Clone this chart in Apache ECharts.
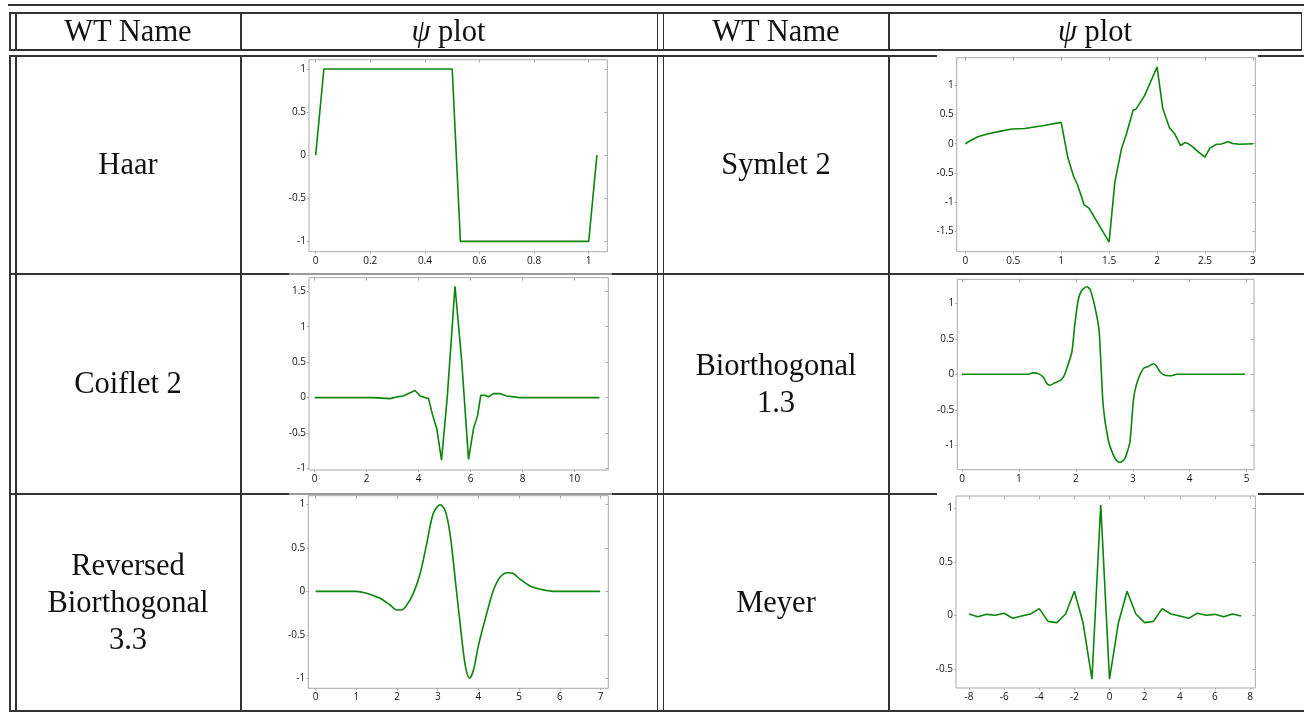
<!DOCTYPE html>
<html>
<head>
<meta charset="utf-8">
<script src="https://cdn.jsdelivr.net/npm/echarts@6/dist/echarts.min.js"></script>
<style>
  html,body{margin:0;padding:0;background:#fff;overflow:hidden;}
  #wrap{position:relative;width:1304px;height:714px;}
  .ln{position:absolute;background:#333;z-index:1;}
  .cover{position:absolute;background:#fff;z-index:2;}
  .ln2{position:absolute;z-index:2;}
  #chart{position:absolute;left:0;top:0;width:1304px;height:714px;z-index:3;}
  .txt{position:absolute;z-index:4;display:flex;align-items:center;justify-content:center;text-align:center;
       font-family:"Liberation Serif","Times New Roman",serif;font-size:30.5px;line-height:37px;color:#111;}
</style>
</head>
<body>
<div id="wrap"><div id="chart"></div></div>
<script>
// ---------- data ----------
const headerLabels = ['WT Name', 'ψ plot'];
const wtNames = [['Haar'], ['Symlet 2'], ['Coiflet 2'], ['Biorthogonal', '1.3'], ['Reversed', 'Biorthogonal', '3.3'], ['Meyer']];

const haarX = [0, 0.03, 0.5, 0.53, 1.0, 1.03];
const haarY = [0, 1, 1, -1, -1, 0];
const haarXTicks = [0, 0.2, 0.4, 0.6, 0.8, 1];
const haarYTicks = [-1, -0.5, 0, 0.5, 1];

const sym2X = [0, 0.06, 0.13, 0.23, 0.37, 0.49, 0.62, 0.82, 1.0, 1.07, 1.13, 1.17, 1.24, 1.29, 1.5, 1.56, 1.63, 1.68, 1.75, 1.78, 1.87, 2.0, 2.06, 2.13, 2.18, 2.245, 2.29, 2.32, 2.37, 2.43, 2.5, 2.55, 2.62, 2.67, 2.74, 2.79, 2.86, 3.0];
const sym2Y = [0, 0.06, 0.12, 0.165, 0.215, 0.25, 0.26, 0.31, 0.364, -0.24, -0.56, -0.70, -1.045, -1.10, -1.68, -0.65, -0.08, 0.16, 0.57, 0.59, 0.82, 1.31, 0.60, 0.27, 0.18, -0.03, 0.02, 0.005, -0.05, -0.14, -0.23, -0.08, -0.01, -0.005, 0.035, 0.005, -0.01, 0];
const sym2XTicks = [0, 0.5, 1, 1.5, 2, 2.5, 3];
const sym2YTicks = [-1.5, -1, -0.5, 0, 0.5, 1];

const coif2X = [0, 2.26, 2.9, 3.16, 3.41, 3.86, 4.06, 4.18, 4.38, 4.54, 4.7, 4.88, 5.1, 5.4, 5.66, 5.92, 6.11, 6.27, 6.39, 6.56, 6.69, 6.88, 7.14, 7.39, 7.9, 10.96];
const coif2Y = [0, 0, -0.014, 0.01, 0.023, 0.10, 0.023, 0.01, -0.014, -0.25, -0.44, -0.88, 0.0, 1.57, 0.50, -0.87, -0.44, -0.25, 0.033, 0.033, 0.01, 0.056, 0.056, 0.023, 0, 0];
const coif2XTicks = [0, 2, 4, 6, 8, 10];
const coif2YTicks = [-1, -0.5, 0, 0.5, 1, 1.5];

const bior13X = [0, 1.02, 1.165, 1.25, 1.34, 1.43, 1.49, 1.545, 1.63, 1.72, 1.78, 1.84, 1.93, 1.98, 2.04, 2.1, 2.19, 2.25, 2.34, 2.41, 2.48, 2.57, 2.66, 2.73, 2.78, 2.86, 2.95, 3.01, 3.07, 3.185, 3.27, 3.36, 3.42, 3.48, 3.57, 3.68, 3.77, 4.97];
const bior13Y = [0, 0, 0, 0.02, 0.01, -0.04, -0.13, -0.155, -0.12, -0.09, -0.04, 0.08, 0.315, 0.69, 1.045, 1.18, 1.235, 1.20, 0.93, 0.60, -0.44, -0.93, -1.14, -1.23, -1.24, -1.19, -0.955, -0.37, -0.13, 0.08, 0.11, 0.15, 0.113, 0.033, -0.014, -0.02, 0, 0];
const bior13XTicks = [0, 1, 2, 3, 4, 5];
const bior13YTicks = [-1, -0.5, 0, 0.5, 1];

const rbio33X = [0, 0.99, 1.25, 1.58, 1.83, 1.99, 2.11, 2.24, 2.40, 2.57, 2.73, 2.89, 3.06, 3.18, 3.30, 3.45, 3.58, 3.68, 3.78, 3.88, 4.0, 4.2, 4.37, 4.54, 4.72, 4.84, 5.03, 5.27, 5.52, 5.84, 6.99];
const rbio33Y = [0, 0, -0.023, -0.08, -0.157, -0.214, -0.214, -0.157, -0.023, 0.207, 0.55, 0.895, 0.994, 0.93, 0.665, 0.05, -0.5, -0.86, -0.998, -0.9, -0.62, -0.26, 0.015, 0.168, 0.214, 0.207, 0.138, 0.061, 0.023, 0, 0];
const rbio33XTicks = [0, 1, 2, 3, 4, 5, 6, 7];
const rbio33YTicks = [-1, -0.5, 0, 0.5, 1];

const meyerX = [-8, -7.5, -7, -6.5, -6, -5.5, -5, -4.5, -4, -3.5, -3, -2.5, -2, -1.5, -1, -0.5, 0, 0.5, 1, 1.5, 2, 2.5, 3, 3.5, 4, 4.5, 5, 5.5, 6, 6.5, 7, 7.5];
const meyerY = [0.015, -0.01, 0.012, 0.003, 0.022, -0.025, -0.003, 0.015, 0.065, -0.053, -0.065, 0.015, 0.226, -0.071, -0.59, 1.028, -0.59, -0.071, 0.226, 0.015, -0.065, -0.053, 0.065, 0.015, -0.003, -0.025, 0.022, 0.003, 0.012, -0.01, 0.015, -0.003];
const meyerXTicks = [-8, -6, -4, -2, 0, 2, 4, 6, 8];
const meyerYTicks = [-0.5, 0, 0.5, 1];

// ---------- table ----------
const wrap = document.getElementById('wrap');
function box(cls, l, t, w, h, bg) {
  const d = document.createElement('div');
  d.className = cls;
  d.style.left = l + 'px'; d.style.top = t + 'px';
  d.style.width = w + 'px'; d.style.height = h + 'px';
  if (bg) d.style.background = bg;
  wrap.appendChild(d);
  return d;
}
const LW = 1.5;
function hline(x1, x2, y, c, cls) { box(cls || 'ln', x1, y, x2 - x1, LW, c); }
function vline(x, y1, y2, c) { box('ln', x, y1, LW, y2 - y1, c); }

hline(8, 1304, 4);
// header
hline(9, 1302, 12);
hline(9, 1302, 49);
[9, 15, 240, 656.5, 662.5, 888, 1300.5].forEach(x => vline(x, 12, 50));
// body
[55, 273, 493, 710].forEach(y => hline(9, 1304, y));
[9, 15, 240, 656.5, 662.5, 888].forEach(x => vline(x, 55, 711.5));
// chart images partly covering the borders
box('cover', 937, 54, 321, 3);
box('cover', 937, 492, 321, 3);
box('cover', 289, 272, 323, 3); hline(289, 612, 273, '#9a9a9a', 'ln2');
box('cover', 289, 492, 323, 3); hline(289, 612, 493, '#9a9a9a', 'ln2');

function text(lines, l, t, w, h) {
  const d = box('txt', l, t, w, h);
  d.innerHTML = '<span>' + lines.join('<br>') + '</span>';
  return d;
}
const psiHeader = '<i>ψ</i>&nbsp;plot';
text([headerLabels[0]], 16, 13, 224, 36);
text([psiHeader], 241, 13, 415, 36);
text([headerLabels[0]], 664, 13, 224, 36);
text([psiHeader], 889, 13, 412, 36);
const rowsY = [[56, 217], [274, 219], [494, 216]];
text(wtNames[0], 16, rowsY[0][0], 224, rowsY[0][1]);
text(wtNames[1], 664, rowsY[0][0], 224, rowsY[0][1]);
text(wtNames[2], 16, rowsY[1][0], 224, rowsY[1][1]);
text(wtNames[3], 664, rowsY[1][0], 224, rowsY[1][1]);
text(wtNames[4], 16, rowsY[2][0], 224, rowsY[2][1]);
text(wtNames[5], 664, rowsY[2][0], 224, rowsY[2][1]);

// ---------- charts ----------
const panels = [
  {x: haarX,  y: haarY,  xt: haarXTicks,  yt: haarYTicks,  xr: [-0.0245, 1.068], yr: [-1.12, 1.108], rect: [309, 59.7, 298.3, 192], smooth: false},
  {x: sym2X,  y: sym2Y,  xt: sym2XTicks,  yt: sym2YTicks,  xr: [-0.09, 3.025],  yr: [-1.843, 1.468], rect: [956.7, 57.7, 298.6, 194], smooth: false},
  {x: coif2X, y: coif2Y, xt: coif2XTicks, yt: coif2YTicks, xr: [-0.22, 11.3],   yr: [-1.02, 1.69],  rect: [309, 277.7, 299.3, 192.3], smooth: false},
  {x: bior13X,y: bior13Y,xt: bior13XTicks,yt: bior13YTicks,xr: [-0.083, 5.13],  yr: [-1.346, 1.341], rect: [957.3, 279.3, 296.7, 190.4], smooth: 0.2},
  {x: rbio33X,y: rbio33Y,xt: rbio33XTicks,yt: rbio33YTicks,xr: [-0.18, 7.19],   yr: [-1.113, 1.098], rect: [308.3, 495.7, 300, 192.6], smooth: 0.3},
  {x: meyerX, y: meyerY, xt: meyerXTicks, yt: meyerYTicks, xr: [-8.74, 8.30],   yr: [-0.672, 1.111], rect: [956, 496, 299.3, 192], smooth: false}
];

const frameColor = '#a9a9a9';
const labelStyle = {fontSize: 10, color: '#111', fontFamily: '"Open Sans", "DejaVu Sans", sans-serif'};
const grids = [], xAxes = [], yAxes = [], series = [];
panels.forEach((p, i) => {
  grids.push({left: p.rect[0], top: p.rect[1], width: p.rect[2], height: p.rect[3],
    show: true, borderColor: frameColor, borderWidth: 1, backgroundColor: 'transparent', containLabel: false});
  const base = {type: 'value', gridIndex: i, splitLine: {show: false}, axisLine: {show: false, onZero: false}};
  xAxes.push(Object.assign({}, base, {position: 'bottom', min: p.xr[0], max: p.xr[1],
    axisTick: {show: true, inside: false, length: 2, lineStyle: {color: frameColor}, customValues: p.xt},
    axisLabel: Object.assign({show: true, margin: 4, customValues: p.xt}, labelStyle)}));
  xAxes.push(Object.assign({}, base, {position: 'top', min: p.xr[0], max: p.xr[1],
    axisTick: {show: true, inside: true, length: 3, lineStyle: {color: frameColor}, customValues: p.xt},
    axisLabel: {show: false, customValues: p.xt}}));
  yAxes.push(Object.assign({}, base, {position: 'left', min: p.yr[0], max: p.yr[1],
    axisTick: {show: true, inside: false, length: 2, lineStyle: {color: frameColor}, customValues: p.yt},
    axisLabel: Object.assign({show: true, margin: 3, customValues: p.yt}, labelStyle)}));
  yAxes.push(Object.assign({}, base, {position: 'right', min: p.yr[0], max: p.yr[1],
    axisTick: {show: true, inside: true, length: 3, lineStyle: {color: frameColor}, customValues: p.yt},
    axisLabel: {show: false, customValues: p.yt}}));
  series.push({type: 'line', xAxisIndex: 2 * i, yAxisIndex: 2 * i,
    data: p.x.map((v, k) => [v, p.y[k]]), showSymbol: false, smooth: p.smooth,
    lineStyle: {color: '#0a850a', width: 1.6}, itemStyle: {color: '#0a850a'}, silent: true, animation: false});
});

const chart = echarts.init(document.getElementById('chart'), null, {renderer: 'canvas'});
chart.setOption({
  backgroundColor: 'transparent',
  animation: false,
  grid: grids, xAxis: xAxes, yAxis: yAxes, series: series
});
</script>
</body>
</html>
